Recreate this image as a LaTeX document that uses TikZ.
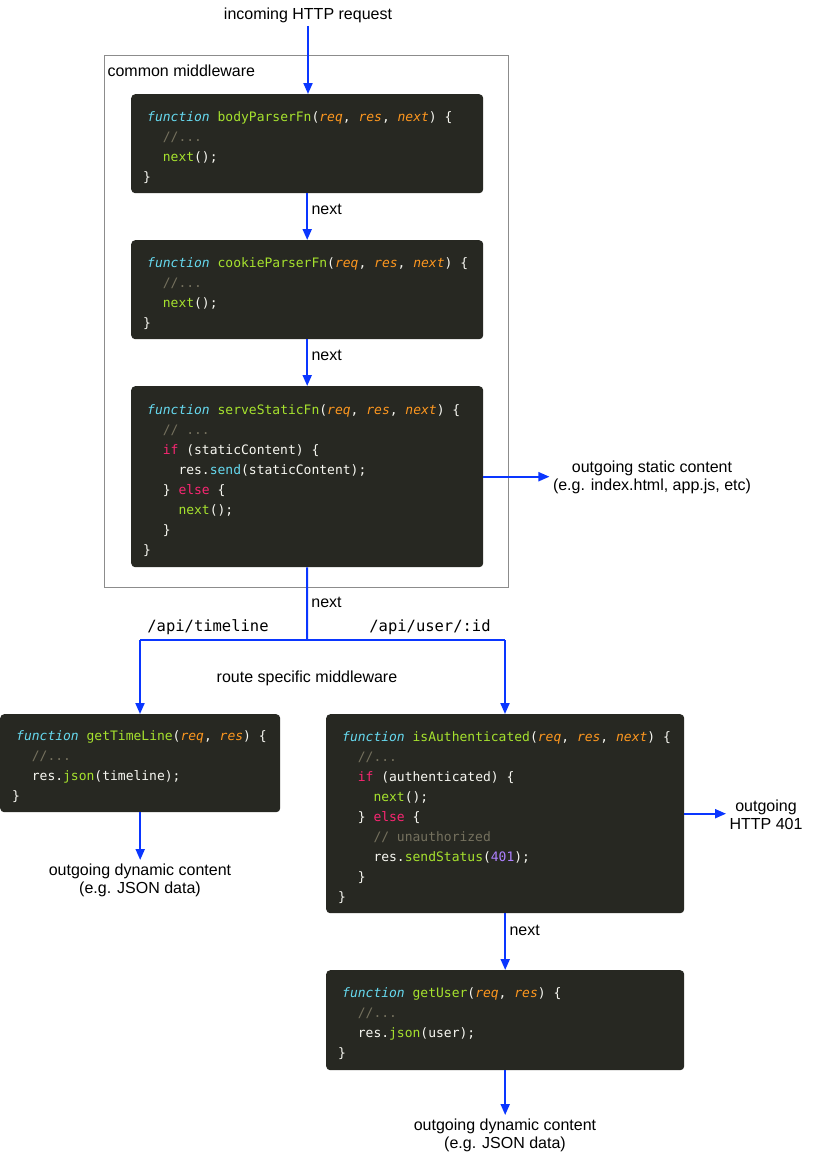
\documentclass[tikz,border=0pt]{standalone}
\usepackage{fontspec}
\setmainfont{Liberation Sans}
\setmonofont{DejaVu Sans Mono}
\usetikzlibrary{arrows.meta,positioning}
\definecolor{codebg}{HTML}{272822}
\definecolor{codefg}{HTML}{F8F8F2}
\definecolor{jscyan}{HTML}{66D9EF}
\definecolor{jsgreen}{HTML}{A6E22E}
\definecolor{jsorange}{HTML}{FD971F}
\definecolor{jspink}{HTML}{F92672}
\definecolor{jsgray}{HTML}{75715E}
\definecolor{jspurple}{HTML}{AE81FF}
\definecolor{flowblue}{HTML}{0A36FF}
\definecolor{framegray}{HTML}{8C8C8C}
\newcommand{\jkw}[1]{\textcolor{jscyan}{\textit{#1}}}
\newcommand{\jname}[1]{\textcolor{jsgreen}{#1}}
\newcommand{\jarg}[1]{\textcolor{jsorange}{\textit{#1}}}
\newcommand{\jctl}[1]{\textcolor{jspink}{#1}}
\newcommand{\jcom}[1]{\textcolor{jsgray}{#1}}
\newcommand{\jnum}[1]{\textcolor{jspurple}{#1}}
\newcommand{\jcall}[1]{\textcolor{jscyan}{#1}}
\newcommand{\ind}{\phantom{xx}}
\newcommand{\codefont}{\ttfamily\fontsize{13}{20}\selectfont}
% fixed spaces, left indent and a taller first line
\newcommand{\codestart}{\spaceskip=7.83pt\xspaceskip=7.83pt\leftskip=4pt\vrule height 17pt depth 0pt width 0pt\relax}
\tikzset{%
  codebox/.style = {shape=rectangle, rounded corners=4pt, fill=codebg,%
                    text=codefg, anchor=north west, inner xsep=12pt,%
                    align=left, font=\codefont},%
  note/.style    = {align=center, font=\fontsize{16}{18}\selectfont},%
  route/.style   = {font=\ttfamily\fontsize{15.5}{18}\selectfont},%
  frame/.style   = {shape=rectangle, draw=framegray, line width=1pt,%
                    anchor=north west, inner sep=0pt},%
  wire/.style    = {draw=flowblue, line width=2pt},%
  flow/.style    = {wire, -{Triangle[length=11pt,width=9pt]}}%
}
\begin{document}
\begin{tikzpicture}[x=1pt, y=-1pt]
  \useasboundingbox (0,0) rectangle (821,1159);
  \node[note] (request) at (308,15) {incoming HTTP request};
  % common middleware
  \node[frame, minimum width=404, minimum height=532] (common) at (104,55) {};
  \node[note, anchor=west] (commonlabel) at (104,71) {common middleware};
  \node[codebox, minimum width=352, minimum height=99, text width=328] (bodyparser) at (131,94) {%
    \codestart\jkw{function} \jname{bodyParserFn}(\jarg{req}, \jarg{res}, \jarg{next}) \{\\
    \ind\jcom{//...}\\
    \ind\jname{next}();\\
    \}};
  \node[codebox, minimum width=352, minimum height=99, text width=328] (cookieparser) at (131,240) {%
    \codestart\jkw{function} \jname{cookieParserFn}(\jarg{req}, \jarg{res}, \jarg{next}) \{\\
    \ind\jcom{//...}\\
    \ind\jname{next}();\\
    \}};
  \node[codebox, minimum width=352, minimum height=181, text width=328] (servestatic) at (131,386) {%
    \codestart\jkw{function} \jname{serveStaticFn}(\jarg{req}, \jarg{res}, \jarg{next}) \{\\
    \ind\jcom{// ...}\\
    \ind\jctl{if} (staticContent) \{\\
    \ind\ind res.\jcall{send}(staticContent);\\
    \ind\} \jctl{else} \{\\
    \ind\ind\jname{next}();\\
    \ind\}\\
    \}};
  \node[note] (staticout) at (652,477) {outgoing static content\\(e.g. index.html, app.js, etc)};
  \draw[flow] (request.south) -- (request.south |- bodyparser.north);
  \draw[flow] (bodyparser) -- node[right, note, pos=0.35] {next} (cookieparser);
  \draw[flow] (cookieparser) -- node[right, note, pos=0.35] {next} (servestatic);
  \draw[flow] (servestatic.east) -- (servestatic.east -| staticout.west);
  % routes
  \coordinate (split) at (307,640);
  \coordinate (splitleft) at (140,640);
  \coordinate (splitright) at (505,640);
  \draw[wire] (servestatic.south) -- node[right, note, pos=0.48] {next} (split);
  \draw[wire] (splitleft) -- (splitright);
  \node[route] (timelineroute) at (208,627) {/api/timeline};
  \node[route] (userroute) at (430,627) {/api/user/:id};
  \node[note] (routelabel) at (307,678) {route specific middleware};
  \node[codebox, minimum width=280, minimum height=98, text width=256] (timeline) at (0,714) {%
    \codestart\jkw{function} \jname{getTimeLine}(\jarg{req}, \jarg{res}) \{\\
    \ind\jcom{//...}\\
    \ind res.\jname{json}(timeline);\\
    \}};
  \node[codebox, minimum width=358, minimum height=199, text width=334] (isauth) at (326,714) {%
    \codestart\jkw{function} \jname{isAuthenticated}(\jarg{req}, \jarg{res}, \jarg{next}) \{\\
    \ind\jcom{//...}\\
    \ind\jctl{if} (authenticated) \{\\
    \ind\ind\jname{next}();\\
    \ind\} \jctl{else} \{\\
    \ind\ind\jcom{// unauthorized}\\
    \ind\ind res.\jname{sendStatus}(\jnum{401});\\
    \ind\}\\
    \}};
  \node[codebox, minimum width=358, minimum height=100, text width=334] (getuser) at (326,970) {%
    \codestart\jkw{function} \jname{getUser}(\jarg{req}, \jarg{res}) \{\\
    \ind\jcom{//...}\\
    \ind res.\jname{json}(user);\\
    \}};
  \node[note] (dynleft) at (140,880) {outgoing dynamic content\\(e.g. JSON data)};
  \node[note] (http401) at (766,815) {outgoing\\HTTP 401};
  \node[note] (dynright) at (505,1135) {outgoing dynamic content\\(e.g. JSON data)};
  \draw[flow] (splitleft) -- (splitleft |- timeline.north);
  \draw[flow] (splitright) -- (splitright |- isauth.north);
  \draw[flow] (timeline.south) -- (timeline.south |- dynleft.north);
  \draw[flow] (isauth.east) -- (isauth.east -| http401.west);
  \draw[flow] (isauth) -- node[right, note, pos=0.3] {next} (getuser);
  \draw[flow] (getuser.south) -- (getuser.south |- dynright.north);
\end{tikzpicture}
\end{document}
